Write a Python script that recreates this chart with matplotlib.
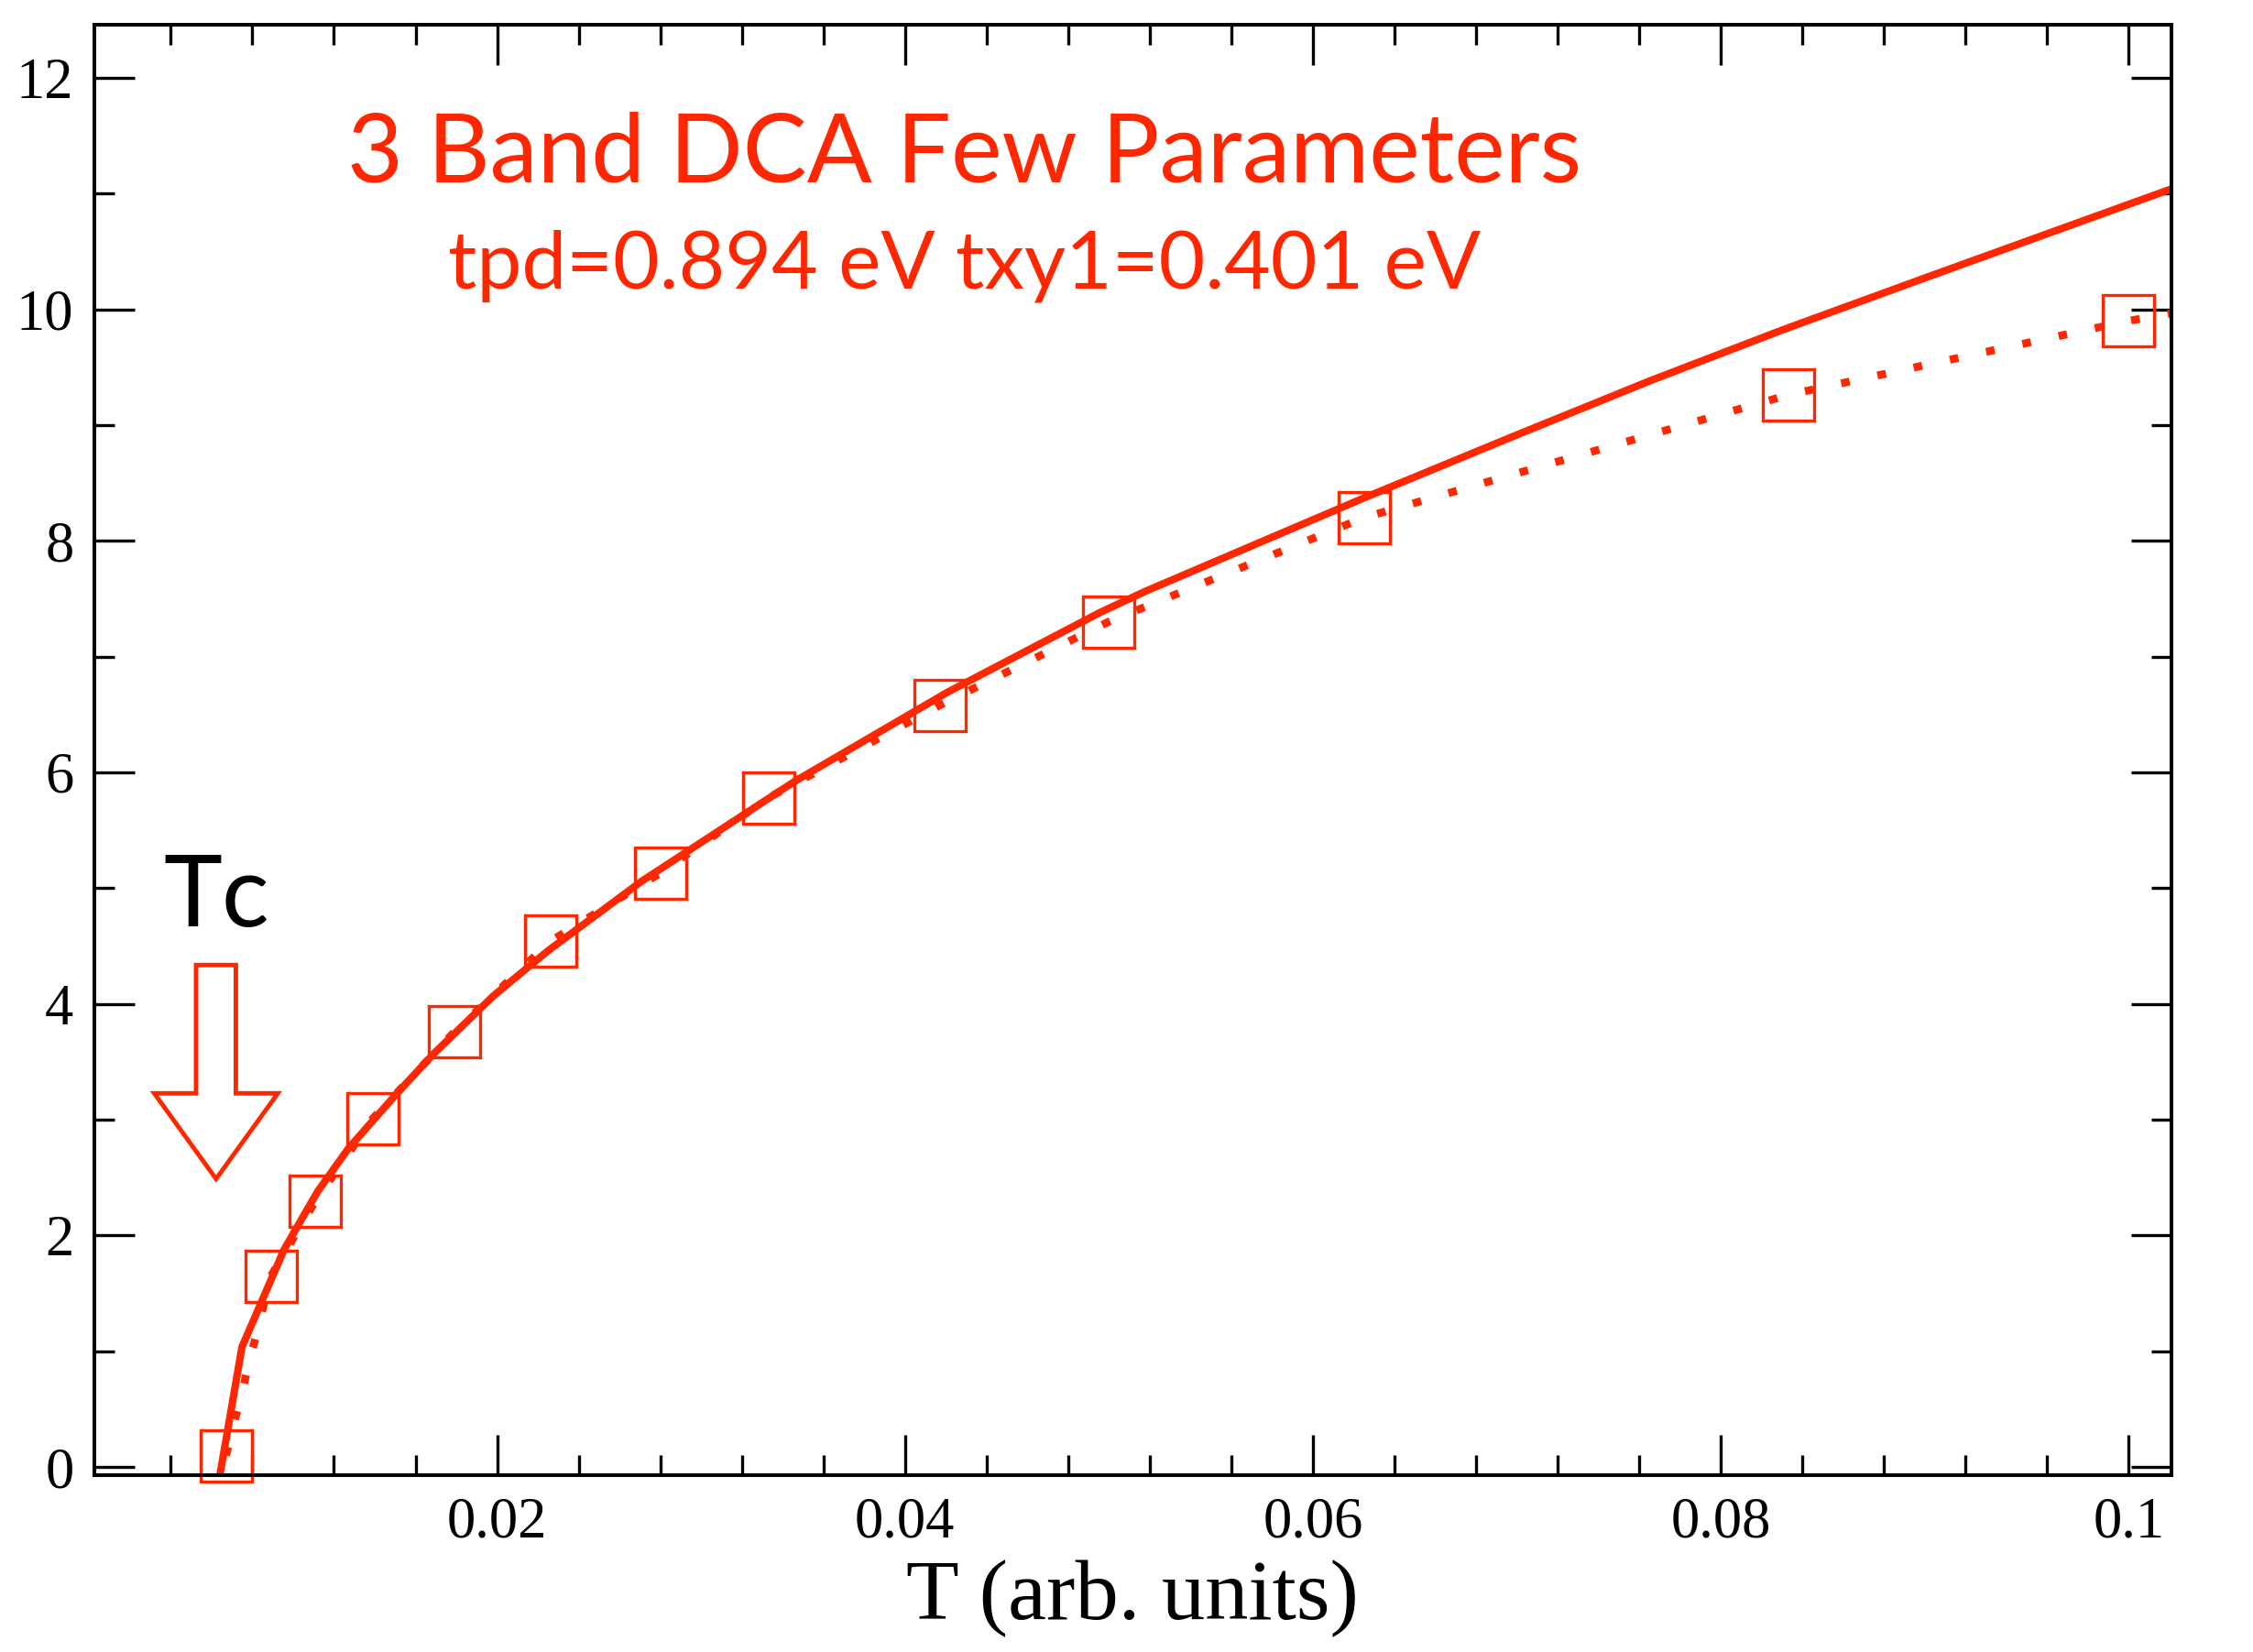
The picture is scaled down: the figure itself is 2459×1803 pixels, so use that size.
import matplotlib
matplotlib.use("Agg")
import matplotlib.pyplot as plt
from matplotlib.patches import Polygon
from matplotlib.ticker import FixedLocator, MultipleLocator, NullFormatter

# ---- data -------------------------------------------------------------
# DCA points (temperature, response)
T_data = [0.00671, 0.00891, 0.01110, 0.01390, 0.01791, 0.02261, 0.02800,
          0.03330, 0.04171, 0.04997, 0.06250, 0.08330, 0.10000]
y_data = [0.10, 1.65, 2.30, 3.01, 3.76, 4.54, 5.13,
          5.78, 6.58, 7.30, 8.20, 9.26, 9.90]
# next point of the dotted connection, beyond the plotted range
T_tail = [0.1111]
y_tail = [10.24]

# few-parameter fit curve
T_fit = [0.00628, 0.00749, 0.00956, 0.01120, 0.01270, 0.01510, 0.01689,
         0.01982, 0.02250, 0.02709, 0.03457, 0.04206, 0.04955, 0.05180,
         0.06250, 0.07000, 0.07650, 0.08300, 0.09000, 0.10210]
y_fit = [-0.20, 1.037, 1.88, 2.38, 2.75, 3.23, 3.57,
         4.07, 4.46, 5.06, 5.92, 6.69, 7.38, 7.565,
         8.37, 8.915, 9.38, 9.82, 10.27, 11.04]

x_ticks = [0.02, 0.04, 0.06, 0.08, 0.1]
x_ticklabels = ["0.02", "0.04", "0.06", "0.08", "0.1"]
y_ticks = [0, 2, 4, 6, 8, 10, 12]
y_ticklabels = ["0", "2", "4", "6", "8", "10", "12"]

title_line1 = "3 Band DCA Few Parameters"
title_line2 = "tpd=0.894 eV txy1=0.401 eV"
xlabel = "T (arb. units)"
tc_label = "Tc"

# ---- style ------------------------------------------------------------
RED = "#ff2600"
SERIF = ["Liberation Serif", "DejaVu Serif"]
SANS = ["Lato", "DejaVu Sans"]

fig = plt.figure(figsize=(24.59, 18.03), dpi=100)
ax = fig.add_axes([0.04177, 0.10704, 0.92204, 0.87815])
ax.set_xlim(0.00024, 0.1021)
ax.set_ylim(-0.07, 12.46)

# dotted connection through the points, then hollow square markers
ax.plot(T_data + T_tail, y_data + y_tail, color=RED, lw=6.2,
        linestyle=(0, (1.1, 3.6)), dash_capstyle="butt", zorder=2)
ax.plot(T_data, y_data, linestyle="none", marker="s", markersize=40,
        markerfacecolor="none", markeredgecolor=RED, markeredgewidth=2.4,
        clip_on=False, zorder=3)
# fit curve on top
ax.plot(T_fit, y_fit, color=RED, lw=5.8, solid_joinstyle="round",
        solid_capstyle="butt", zorder=4)

# axes frame and ticks
for sp in ax.spines.values():
    sp.set_linewidth(2.9)
    sp.set_zorder(5)
ax.xaxis.set_major_locator(FixedLocator(x_ticks))
ax.set_xticklabels(x_ticklabels)
ax.xaxis.set_minor_locator(MultipleLocator(0.004))
ax.yaxis.set_major_locator(FixedLocator(y_ticks))
ax.set_yticklabels(y_ticklabels)
ax.yaxis.set_minor_locator(MultipleLocator(1))
ax.xaxis.set_minor_formatter(NullFormatter())
ax.yaxis.set_minor_formatter(NullFormatter())
ax.tick_params(which="both", direction="in", top=True, right=True,
               width=2.4, color="black")
ax.tick_params(which="major", length=31.7)
ax.tick_params(which="minor", length=15.8)
ax.tick_params(axis="x", which="major", pad=17)
ax.tick_params(axis="y", which="major", pad=16)
for lab in ax.get_xticklabels() + ax.get_yticklabels():
    lab.set_fontfamily(SERIF)
    lab.set_fontsize(45)

ax.set_xlabel(xlabel, fontsize=68, family=SERIF, va="baseline")
ax.xaxis.set_label_coords(0.5, -0.0992)

# annotations
ax.text(0.4191, 0.8912, title_line1, transform=ax.transAxes, ha="center",
        va="baseline", color=RED, fontsize=75.5, family=SANS)
ax.text(0.4191, 0.8185, title_line2, transform=ax.transAxes, ha="center",
        va="baseline", color=RED, fontsize=63, family=SANS)
ax.text(0.0332, 0.3785, tc_label, transform=ax.transAxes, ha="left",
        va="baseline", color="black", fontsize=78, family=SANS)

# hollow arrow pointing down at Tc
arrow = Polygon([(0.00524, 4.336), (0.00719, 4.336), (0.00719, 3.228),
                 (0.00925, 3.228), (0.00622, 2.489), (0.00319, 3.228),
                 (0.00524, 3.228)], closed=True, facecolor="none",
                edgecolor=RED, lw=3.5, joinstyle="miter", zorder=3)
ax.add_patch(arrow)

fig.savefig("out.png", dpi=100)
